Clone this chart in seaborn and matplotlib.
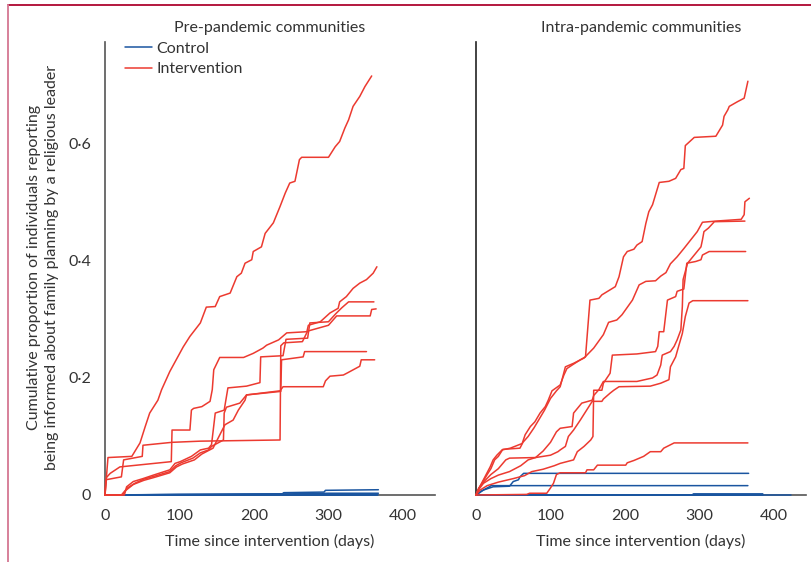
import numpy as np
import pandas as pd
import matplotlib.pyplot as plt
import matplotlib as mpl
from matplotlib.lines import Line2D
import seaborn as sns

# (day, cumulative proportion), one list per community
# pre-pandemic, intervention arm
pre_int_1 = [(0, 0), (4, 0.064), (36, 0.066), (47, 0.089), (54, 0.117), (60, 0.14), (71, 0.162),
             (76, 0.18), (87, 0.211), (105, 0.253), (114, 0.271), (128, 0.294), (136, 0.321),
             (148, 0.322), (154, 0.339), (168, 0.345), (177, 0.373), (183, 0.379), (188, 0.396),
             (197, 0.402), (199, 0.416), (210, 0.424), (215, 0.447), (226, 0.465), (235, 0.493),
             (242, 0.516), (248, 0.533), (255, 0.536), (261, 0.573), (264, 0.577), (300, 0.577),
             (309, 0.595), (315, 0.604), (322, 0.627), (327, 0.641), (333, 0.664), (342, 0.681),
             (349, 0.698), (356, 0.712), (358, 0.716)]
pre_int_2 = [(0, 0), (1, 0.026), (22, 0.031), (25, 0.06), (50, 0.066), (51, 0.085), (90, 0.09),
             (128, 0.092), (235, 0.094), (236, 0.255), (240, 0.26), (265, 0.262), (272, 0.28),
             (300, 0.29), (311, 0.306), (356, 0.306), (358, 0.317), (364, 0.318)]
pre_int_3 = [(0, 0), (2, 0.03), (7, 0.037), (20, 0.048), (89, 0.057), (90, 0.111), (114, 0.111),
             (116, 0.145), (119, 0.148), (130, 0.151), (141, 0.16), (144, 0.18), (146, 0.214),
             (154, 0.235), (186, 0.235), (199, 0.242), (212, 0.251), (217, 0.256), (233, 0.265),
             (244, 0.277), (271, 0.279), (273, 0.29), (289, 0.296), (302, 0.311), (313, 0.319),
             (315, 0.33), (324, 0.339), (333, 0.353), (342, 0.362), (351, 0.368), (360, 0.379),
             (365, 0.39)]
pre_int_4 = [(0, 0), (26, 0), (29, 0.014), (38, 0.023), (51, 0.028), (65, 0.034), (87, 0.043),
             (94, 0.054), (101, 0.057), (116, 0.066), (128, 0.077), (139, 0.08), (143, 0.086),
             (148, 0.14), (160, 0.145), (165, 0.183), (190, 0.186), (208, 0.192), (209, 0.236),
             (239, 0.238), (243, 0.266), (272, 0.268), (275, 0.294), (300, 0.296), (310, 0.31),
             (318, 0.32), (327, 0.33), (361, 0.33)]
pre_int_5 = [(0, 0), (22, 0), (30, 0.012), (40, 0.02), (52, 0.027), (66, 0.032), (87, 0.04),
             (95, 0.05), (102, 0.055), (118, 0.063), (128, 0.072), (139, 0.077), (143, 0.083),
             (159, 0.094), (160, 0.14), (163, 0.15), (181, 0.157), (190, 0.171), (236, 0.177),
             (237, 0.231), (266, 0.236), (268, 0.245), (351, 0.245)]
pre_int_6 = [(0, 0), (24, 0), (28, 0.008), (38, 0.018), (52, 0.025), (66, 0.03), (87, 0.038),
             (96, 0.048), (104, 0.053), (120, 0.06), (130, 0.07), (145, 0.08), (161, 0.12),
             (172, 0.128), (179, 0.145), (188, 0.162), (190, 0.171), (235, 0.178), (239, 0.185),
             (293, 0.185), (296, 0.195), (302, 0.203), (320, 0.205), (326, 0.209), (342, 0.22),
             (344, 0.231), (362, 0.231)]

# pre-pandemic, control arm
pre_ctl_1 = [(0, 0), (140, 0.001), (238, 0.002), (240, 0.004), (294, 0.005), (296, 0.008), (367, 0.009)]
pre_ctl_2 = [(0, 0), (250, 0.002), (300, 0.003), (367, 0.003)]
pre_ctl_3 = [(0, 0), (100, 0.001), (366, 0.001)]
pre_ctl_4 = [(0, 0), (366, 0.0)]
pre_ctl_5 = [(0, 0), (365, 0.0)]

# intra-pandemic, intervention arm
intra_int_1 = [(0, 0), (5, 0.014), (12, 0.031), (19, 0.048), (23, 0.06), (28, 0.068), (35, 0.077),
               (46, 0.08), (62, 0.088), (66, 0.103), (73, 0.117), (79, 0.125), (86, 0.14),
               (93, 0.151), (97, 0.162), (102, 0.178), (113, 0.188), (118, 0.205), (122, 0.216),
               (129, 0.222), (140, 0.231), (147, 0.236), (153, 0.333), (165, 0.336), (169, 0.342),
               (187, 0.356), (192, 0.373), (198, 0.407), (203, 0.416), (212, 0.42), (216, 0.427),
               (223, 0.433), (228, 0.464), (232, 0.484), (237, 0.496), (246, 0.534), (259, 0.536),
               (268, 0.541), (275, 0.556), (279, 0.558), (281, 0.597), (293, 0.611), (322, 0.613),
               (331, 0.632), (333, 0.647), (338, 0.658), (340, 0.664), (351, 0.672), (360, 0.678),
               (365, 0.707)]
intra_int_2 = [(0, 0), (3, 0.01), (8, 0.02), (15, 0.035), (20, 0.045), (25, 0.06), (30, 0.066),
               (36, 0.078), (59, 0.08), (63, 0.09), (70, 0.1), (78, 0.115), (85, 0.13), (92, 0.145),
               (100, 0.165), (108, 0.178), (113, 0.185), (120, 0.219), (131, 0.225), (145, 0.234),
               (158, 0.251), (171, 0.274), (178, 0.295), (189, 0.299), (196, 0.308), (210, 0.333),
               (219, 0.359), (228, 0.365), (241, 0.366), (248, 0.374), (255, 0.38), (261, 0.395),
               (270, 0.407), (279, 0.421), (297, 0.45), (304, 0.466), (322, 0.468), (356, 0.471),
               (360, 0.479), (361, 0.501), (367, 0.507)]
intra_int_3 = [(0, 0), (4, 0.012), (10, 0.022), (20, 0.035), (30, 0.045), (40, 0.06), (45, 0.063),
               (80, 0.064), (90, 0.075), (100, 0.09), (108, 0.108), (113, 0.114), (129, 0.117),
               (131, 0.14), (142, 0.157), (156, 0.162), (158, 0.17), (165, 0.18), (171, 0.194),
               (216, 0.194), (237, 0.2), (243, 0.205), (248, 0.222), (250, 0.239), (261, 0.245),
               (266, 0.254), (270, 0.265), (275, 0.282), (277, 0.322), (278, 0.368), (284, 0.396),
               (302, 0.424), (304, 0.436), (306, 0.45), (312, 0.456), (320, 0.467), (361, 0.468)]
intra_int_4 = [(0, 0), (5, 0.008), (15, 0.016), (30, 0.022), (50, 0.028), (65, 0.033), (75, 0.04),
               (90, 0.044), (105, 0.05), (113, 0.054), (131, 0.06), (136, 0.074), (145, 0.083),
               (154, 0.094), (157, 0.1), (158, 0.179), (169, 0.179), (171, 0.191), (180, 0.208),
               (183, 0.239), (216, 0.241), (241, 0.245), (244, 0.254), (246, 0.279), (252, 0.279),
               (257, 0.333), (268, 0.339), (270, 0.348), (279, 0.352), (283, 0.396), (295, 0.399),
               (302, 0.402), (304, 0.41), (313, 0.416), (362, 0.416)]
intra_int_5 = [(0, 0), (4, 0.01), (10, 0.02), (20, 0.028), (30, 0.034), (45, 0.04), (60, 0.05),
               (70, 0.06), (80, 0.064), (100, 0.068), (110, 0.074), (113, 0.077), (120, 0.083),
               (124, 0.1), (131, 0.111), (140, 0.128), (156, 0.16), (169, 0.16), (171, 0.164),
               (180, 0.174), (185, 0.179), (192, 0.185), (234, 0.186), (248, 0.191), (259, 0.197),
               (261, 0.219), (268, 0.236), (272, 0.254), (277, 0.276), (281, 0.305), (286, 0.328),
               (291, 0.332), (365, 0.332)]
intra_int_6 = [(0, 0), (68, 0.001), (72, 0.003), (95, 0.003), (100, 0.012), (104, 0.02), (108, 0.035),
               (113, 0.038), (147, 0.038), (149, 0.043), (158, 0.043), (163, 0.051), (201, 0.051),
               (203, 0.055), (212, 0.059), (225, 0.066), (234, 0.074), (248, 0.074), (252, 0.08),
               (266, 0.089), (365, 0.089)]

# intra-pandemic, control arm
intra_ctl_1 = [(0, 0), (5, 0.004), (10, 0.0085), (23, 0.014), (45, 0.015), (50, 0.023), (57, 0.026),
               (59, 0.031), (64, 0.037), (366, 0.037)]
intra_ctl_2 = [(0, 0), (6, 0.006), (12, 0.01), (18, 0.014), (20, 0.016), (365, 0.016)]
intra_ctl_3 = [(0, 0), (365, 0.0)]
intra_ctl_4 = [(0, 0), (423, 0.0)]
intra_ctl_5 = [(0, 0), (290, 0.0), (292, 0.002), (385, 0.002)]
intra_ctl_6 = [(0, 0), (385, 0.0)]

panels = {
    'Pre-pandemic communities': {
        'Intervention': [pre_int_1, pre_int_2, pre_int_3, pre_int_4, pre_int_5, pre_int_6],
        'Control': [pre_ctl_1, pre_ctl_2, pre_ctl_3, pre_ctl_4, pre_ctl_5],
    },
    'Intra-pandemic communities': {
        'Intervention': [intra_int_1, intra_int_2, intra_int_3, intra_int_4, intra_int_5, intra_int_6],
        'Control': [intra_ctl_1, intra_ctl_2, intra_ctl_3, intra_ctl_4, intra_ctl_5, intra_ctl_6],
    },
}

yticks = [0, 0.2, 0.4, 0.6]
ytick_labels = ['0', '0·2', '0·4', '0·6']
xticks = [0, 100, 200, 300, 400]

RED = '#ec3a30'
BLUE = '#1a55a0'
TXT = '#333333'
palette = {'Control': BLUE, 'Intervention': RED}

sns.set_style('white')
plt.rcParams['font.family'] = ['Lato', 'DejaVu Sans']
plt.rcParams['text.color'] = TXT
plt.rcParams['axes.labelcolor'] = TXT
plt.rcParams['xtick.color'] = TXT
plt.rcParams['ytick.color'] = TXT

fig = plt.figure(figsize=(8.12, 5.62), dpi=100)
ax1 = fig.add_axes([105 / 812, 67 / 562, 330 / 812, 453 / 562])
ax2 = fig.add_axes([476 / 812, 67 / 562, 330 / 812, 453 / 562])

for ax, (title, arms) in zip([ax1, ax2], panels.items()):
    rows = []
    for arm in ['Control', 'Intervention']:
        for k, curve in enumerate(arms[arm]):
            for day, val in curve:
                rows.append({'arm': arm, 'unit': f'{arm}{k}', 'day': day, 'prop': val})
    df = pd.DataFrame(rows)
    sns.lineplot(data=df, x='day', y='prop', hue='arm', units='unit', estimator=None,
                 sort=False, palette=palette, lw=1.1, legend=False, ax=ax, zorder=3, clip_on=False)
    ax.set_xlim(0, 443)
    ax.set_ylim(0, 0.774)
    ax.set_xticks(xticks)
    ax.set_yticks(yticks)
    ax.set_xlabel('Time since intervention (days)', fontsize=11.5, labelpad=8)
    ax.set_ylabel('')
    ax.set_title(title, fontsize=11.5, pad=7, color=TXT)
    for s in ['top', 'right']:
        ax.spines[s].set_visible(False)
    for s in ['left', 'bottom']:
        ax.spines[s].set_color('#555555')
        ax.spines[s].set_linewidth(1.2)
    ax.tick_params(direction='out', length=7, width=1.1, color='#555555', labelsize=11.5, pad=3)

ax1.set_yticklabels(ytick_labels)
ax2.set_yticklabels([])
ax2.spines['left'].set_color('#222222')

handles = [Line2D([], [], color=BLUE, lw=1.1), Line2D([], [], color=RED, lw=1.1)]
ax1.legend(handles, ['Control', 'Intervention'], loc='upper left', bbox_to_anchor=(0.04, 1.015),
           frameon=False, fontsize=11.5, handlelength=1.7, handletextpad=0.3, labelspacing=0.4,
           borderaxespad=0)

fig.text(43 / 812, 0.525, 'Cumulative proportion of individuals reporting\n'
         'being informed about family planning by a religious leader',
         rotation=90, ha='center', va='center', fontsize=11.5, linespacing=1.4)

# journal frame
fig.add_artist(Line2D([8 / 812, 1], [1 - 5 / 562, 1 - 5 / 562], color='#b3173e', lw=1.4))
fig.add_artist(Line2D([8 / 812, 8 / 812], [0, 1 - 5 / 562], color='#d7809a', lw=1.4))

fig.savefig('out.png', dpi=100)
